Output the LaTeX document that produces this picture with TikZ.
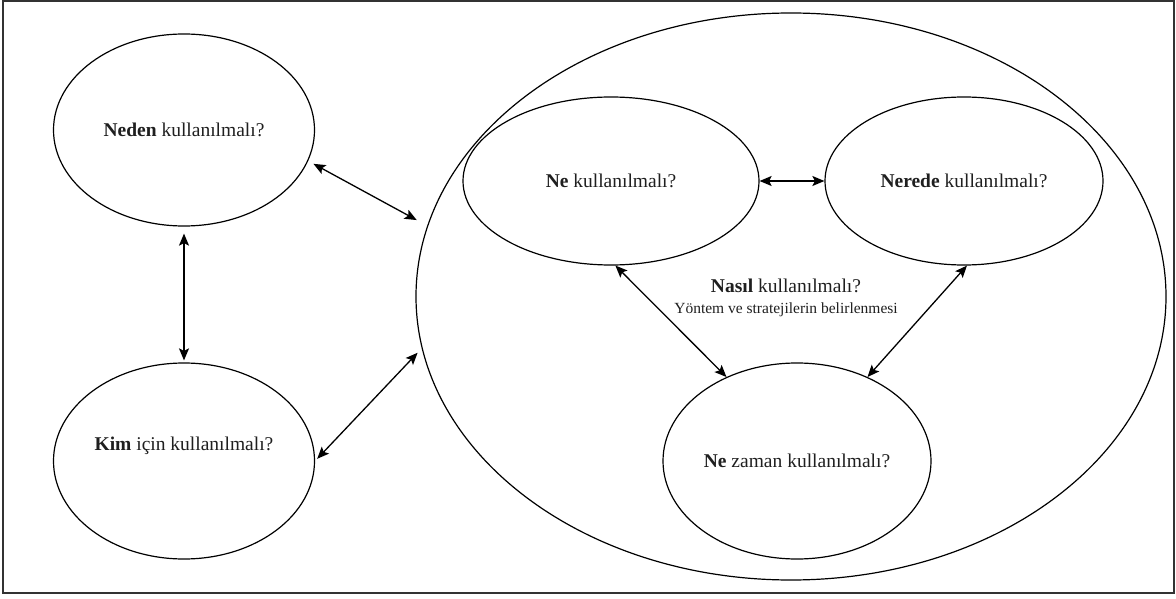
\documentclass[tikz,border=0pt]{standalone}
\usepackage{fontspec}
\setmainfont{Liberation Serif}
\usetikzlibrary{shapes.geometric,arrows.meta}
\begin{document}
\begin{tikzpicture}[x=1pt,y=-1pt,
  oval/.style={draw=black,line width=1.2pt,ellipse,inner sep=0pt},
  lbl/.style={font=\fontsize{19.5}{22}\selectfont,text=black!88},
  sub/.style={font=\fontsize{15.5}{18}\selectfont,text=black!88},
  link/.style={line width=1.3pt,{Stealth[length=12pt,width=10pt,inset=2.5pt]}-{Stealth[length=12pt,width=10pt,inset=2.5pt]}}]
\useasboundingbox (0,0) rectangle (1176,599);
\draw[line width=1.5pt,black!80] (3,1) rectangle (1174,593);

% left column
\node[oval,minimum width=261pt,minimum height=192pt] (neden) at (184,130) {};
\node[lbl] at (neden.center) {\textbf{Neden} kullanılmalı?};
\node[oval,minimum width=261pt,minimum height=196pt] (kim) at (184,461) {};
\node[lbl] at (184,446) {\textbf{Kim} için kullanılmalı?};

% large enclosing ellipse
\node[oval,minimum width=750pt,minimum height=567pt] (big) at (791,296.5) {};

% inner ellipses
\node[oval,minimum width=296pt,minimum height=168pt] (ne) at (611,181) {};
\node[lbl] at (ne.center) {\textbf{Ne} kullanılmalı?};
\node[oval,minimum width=278pt,minimum height=168pt] (nerede) at (964,181) {};
\node[lbl] at (nerede.center) {\textbf{Nerede} kullanılmalı?};
\node[oval,minimum width=268pt,minimum height=196pt] (nezaman) at (797,461) {};
\node[lbl] at (nezaman.center) {\textbf{Ne} zaman kullanılmalı?};

% centre caption
\node[lbl] (nasil) at (786,286) {\textbf{Nasıl} kullanılmalı?};
\node[sub] (yontem) at (786,310) {Yöntem ve stratejilerin belirlenmesi};

% connectors
\draw[link,shorten <=6pt,shorten >=12pt] (neden.-14) -- (big.169);
\draw[link,shorten <=3pt,shorten >=6pt] (kim.east) -- (big.188);
\draw[link,shorten <=7pt,shorten >=2pt] (neden.south) -- (kim.north);
\draw[link] (ne.east) -- (nerede.west);
\draw[link] (ne.-87) -- (nezaman.130);
\draw[link] (nerede.-88) -- (nezaman.50);
\end{tikzpicture}
\end{document}
